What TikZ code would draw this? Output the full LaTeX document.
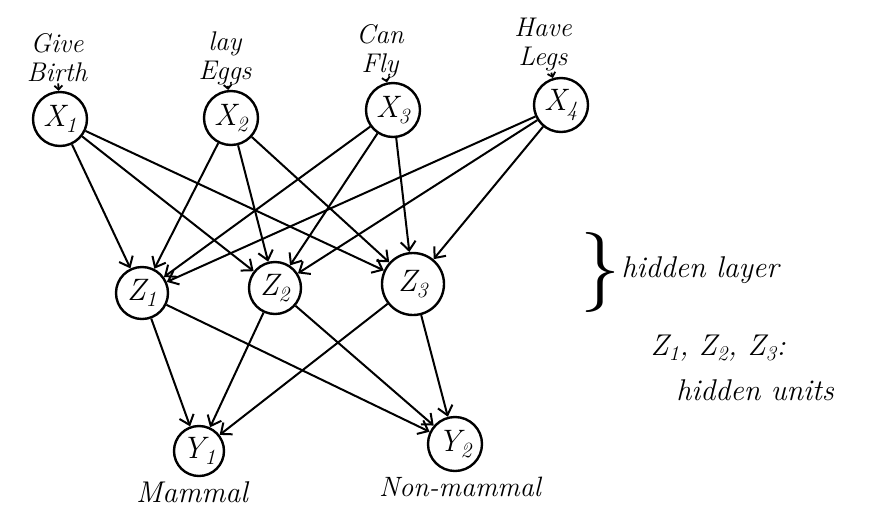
\documentclass[tikz,border=0pt]{standalone}
\usepackage{fontspec}
\usepackage{xcolor}
\usepackage{tikz}
\usetikzlibrary{arrows.meta}
\tikzstyle{unit} = [circle, draw=black, line width=2.4pt, inner sep=0pt, minimum size=54pt, font=\itshape\fontsize{31}{33}\selectfont]
\tikzstyle{label} = [align=center, inner sep=1pt, font=\itshape\fontsize{27}{29}\selectfont]
\tikzstyle{note} = [font=\itshape\fontsize{30}{32}\selectfont]
\tikzstyle{arrow} = [line width=2pt, -{Straight Barb[length=9pt,width=15pt]}]
\tikzstyle{tick} = [line width=1.8pt, -{Straight Barb[length=4pt,width=8pt]}]

\begin{document}
\begin{tikzpicture}[x=1pt, y=-1pt]
				\useasboundingbox (0,0) rectangle (872,531);
				% inputs
				\node (x1) [unit] at (60,119) {X\textsubscript{1}};
				\node (x2) [unit] at (231,118) {X\textsubscript{2}};
				\node (x3) [unit] at (393,110) {X\textsubscript{3}};
				\node (x4) [unit] at (561,105) {X\textsubscript{4}};
				\node (birth) [label] at (57,58) {Give\\Birth};
				\node (eggs) [label] at (225,58) {lay\\Eggs};
				\node (fly) [label] at (380,51) {Can\\Fly};
				\node (legs) [label] at (543,45) {Have\\Legs};
				% hidden
				\node (z1) [unit, minimum size=52pt] at (142,293) {Z\textsubscript{1}};
				\node (z2) [unit, minimum size=52pt] at (275,288) {Z\textsubscript{2}};
				\node (z3) [unit, minimum size=62pt] at (413,284) {Z\textsubscript{3}};
				% outputs
				\node (y1) [unit, minimum size=50pt] at (199,451) {Y\textsubscript{1}};
				\node (y2) [unit, minimum size=54pt] at (455,444) {Y\textsubscript{2}};
				\node (mammal) [note] at (192,492) {Mammal};
				\node (nonmammal) [note, font=\itshape\fontsize{28}{30}\selectfont] at (460,487) {Non-mammal};
				% notes
				\node (brace) [font=\fontsize{80}{80}\selectfont] at (600,272) {\}};
				\node (layer) [note, anchor=west] at (618,270) {hidden layer};
				\node (zs) [note] at (718,348) {Z\textsubscript{1}, Z\textsubscript{2}, Z\textsubscript{3}:};
				\node (units) [note] at (755,390) {hidden units};

				\draw [tick] (birth) -- (x1);
				\draw [tick] (eggs) -- (x2);
				\draw [tick] (fly) -- (x3);
				\draw [tick] (legs) -- (x4);

				\draw [arrow] (x1) -- (z1);
				\draw [arrow] (x1) -- (z2);
				\draw [arrow] (x1) -- (z3);
				\draw [arrow] (x2) -- (z1);
				\draw [arrow] (x2) -- (z2);
				\draw [arrow] (x2) -- (z3);
				\draw [arrow] (x3) -- (z1);
				\draw [arrow] (x3) -- (z2);
				\draw [arrow] (x3) -- (z3);
				\draw [arrow] (x4) -- (z1);
				\draw [arrow] (x4) -- (z2);
				\draw [arrow] (x4) -- (z3);

				\draw [arrow] (z1) -- (y1);
				\draw [arrow] (z1) -- (y2);
				\draw [arrow] (z2) -- (y1);
				\draw [arrow] (z2) -- (y2);
				\draw [arrow] (z3) -- (y1);
				\draw [arrow] (z3) -- (y2);

			\end{tikzpicture}
\end{document}
